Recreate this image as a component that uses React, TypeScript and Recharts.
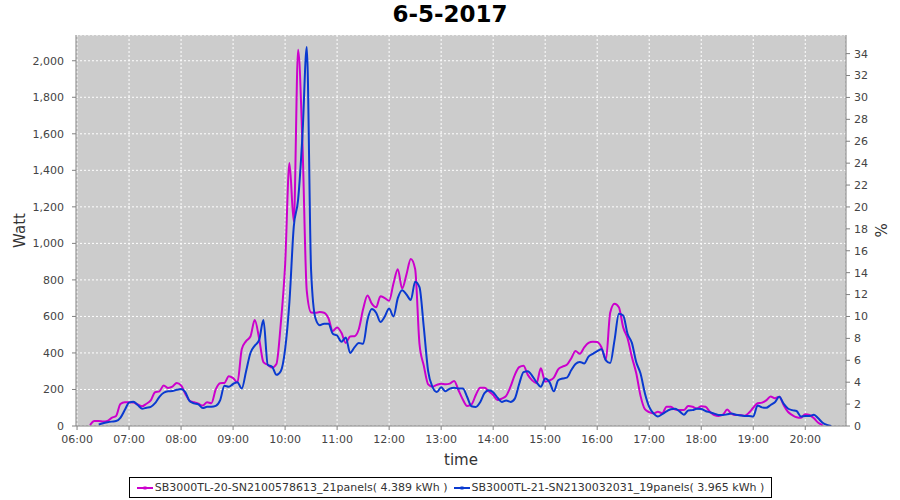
import React from 'react';
import { LineChart, Line, XAxis, YAxis, CartesianGrid } from 'recharts';

const times = [
  '06:15', '06:20', '06:25', '06:30', '06:35', '06:40', '06:45', '06:50', '06:55',
  '07:00', '07:05', '07:10', '07:15', '07:20', '07:25', '07:30', '07:35', '07:40', '07:45', '07:50', '07:55',
  '08:00', '08:05', '08:10', '08:15', '08:20', '08:25', '08:30', '08:35', '08:40', '08:45', '08:50', '08:55',
  '09:00', '09:05', '09:10', '09:15', '09:20', '09:25', '09:30', '09:35', '09:40', '09:45', '09:50', '09:55',
  '10:00', '10:05', '10:10', '10:15', '10:20', '10:25', '10:30', '10:35', '10:40', '10:45', '10:50', '10:55',
  '11:00', '11:05', '11:10', '11:15', '11:20', '11:25', '11:30', '11:35', '11:40', '11:45', '11:50', '11:55',
  '12:00', '12:05', '12:10', '12:15', '12:20', '12:25', '12:30', '12:35', '12:40', '12:45', '12:50', '12:55',
  '13:00', '13:05', '13:10', '13:15', '13:20', '13:25', '13:30', '13:35', '13:40', '13:45', '13:50', '13:55',
  '14:00', '14:05', '14:10', '14:15', '14:20', '14:25', '14:30', '14:35', '14:40', '14:45', '14:50', '14:55',
  '15:00', '15:05', '15:10', '15:15', '15:20', '15:25', '15:30', '15:35', '15:40', '15:45', '15:50', '15:55',
  '16:00', '16:05', '16:10', '16:15', '16:20', '16:25', '16:30', '16:35', '16:40', '16:45', '16:50', '16:55',
  '17:00', '17:05', '17:10', '17:15', '17:20', '17:25', '17:30', '17:35', '17:40', '17:45', '17:50', '17:55',
  '18:00', '18:05', '18:10', '18:15', '18:20', '18:25', '18:30', '18:35', '18:40', '18:45', '18:50', '18:55',
  '19:00', '19:05', '19:10', '19:15', '19:20', '19:25', '19:30', '19:35', '19:40', '19:45', '19:50', '19:55',
  '20:00', '20:05', '20:10', '20:15', '20:20', '20:25', '20:30',
];

// SB3000TL-20 (magenta), watts
const inv20 = [
  5, 27, 27, 25, 28, 45, 55, 120, 130,
  130, 128, 118, 108, 122, 140, 185, 190, 222, 208, 215, 236,
  222, 175, 138, 130, 122, 112, 130, 125, 200, 234, 236, 272,
  262, 238, 420, 465, 490, 580, 480, 350, 335, 320, 340, 560,
  880, 1440, 1120, 2060, 1550, 740, 622, 620, 624, 620, 590, 520,
  540, 510, 455, 490, 492, 530, 640, 715, 670, 650, 711, 700,
  686, 780, 859, 753, 830, 915, 860, 450, 330, 228, 215, 225,
  232, 228, 232, 247, 196, 145, 110, 118, 170, 210, 210, 190,
  170, 142, 150, 165, 215, 280, 322, 330, 280, 250, 234, 316,
  243, 250, 265, 310, 325, 335, 370, 410, 395, 430, 455, 462,
  460, 430, 362, 620, 669, 650, 540, 480, 378, 290, 165, 92,
  76, 69, 78, 70, 105, 105, 90, 87, 87, 109, 105, 96,
  108, 105, 78, 60, 55, 62, 90, 66, 60, 60, 56, 72,
  100, 125, 128, 140, 162, 152, 160, 115, 78, 60, 48, 45,
  65, 60, 42, 18, 5, null, null,
];

// SB3000TL-21 (blue), watts
const inv21 = [
  null, null, 8, 15, 20, 24, 27, 45, 87,
  128, 133, 115, 95, 100, 105, 125, 160, 182, 190, 191, 198,
  202, 185, 135, 124, 118, 98, 105, 105, 110, 140, 220, 215,
  230, 240, 205, 300, 400, 440, 470, 580, 335, 325, 280, 300,
  420, 680, 1092, 1240, 1590, 2075, 850, 590, 552, 560, 560, 505,
  495, 461, 485, 400, 430, 455, 450, 580, 640, 620, 570, 600,
  643, 600, 700, 744, 720, 690, 790, 760, 540, 300, 214, 186,
  212, 190, 205, 210, 205, 205, 159, 108, 104, 130, 180, 196,
  185, 155, 132, 140, 132, 150, 230, 295, 300, 275, 240, 215,
  260, 240, 190, 250, 260, 265, 305, 340, 351, 342, 380, 395,
  410, 420, 360, 345, 470, 615, 605, 505, 455, 350, 287, 180,
  105, 69, 52, 65, 80, 92, 94, 80, 62, 85, 87, 94,
  93, 82, 75, 68, 60, 60, 64, 68, 62, 58, 55, 55,
  52, 112, 102, 100, 115, 130, 160, 122, 96, 87, 82, 52,
  55, 55, 62, 42, 18, 6, 0,
];

const hourTicks = ['06:00', '07:00', '08:00', '09:00', '10:00', '11:00', '12:00', '13:00',
  '14:00', '15:00', '16:00', '17:00', '18:00', '19:00', '20:00'];
const wattTicks = [0, 200, 400, 600, 800, 1000, 1200, 1400, 1600, 1800, 2000];
const pctTicks = [0, 2, 4, 6, 8, 10, 12, 14, 16, 18, 20, 22, 24, 26, 28, 30, 32, 34];

const series = [
  { key: 'inv20', name: 'SB3000TL-20-SN2100578613_21panels( 4.389 kWh )', color: '#cc00cc' },
  { key: 'inv21', name: 'SB3000TL-21-SN2130032031_19panels( 3.965 kWh )', color: '#0a3ad0' },
];

const toMin = (s: string) => {
  const [h, m] = s.split(':').map(Number);
  return h * 60 + m;
};
const fmtTime = (v: number) => {
  const h = Math.floor(v / 60);
  const m = v % 60;
  return `${String(h).padStart(2, '0')}:${String(m).padStart(2, '0')}`;
};

const data = times.map((tm, i) => ({ t: toMin(tm), inv20: inv20[i], inv21: inv21[i] }));

const FONT = '"DejaVu Sans", Tahoma, sans-serif';
const tickStyle = { fontFamily: FONT, fontSize: 11, fill: '#444' };
const axisGray = '#808080';

const axisTitle = (text: string, dx: number, dy: number, angle: number) => (props: any) => {
  const vb = props.viewBox || {};
  const cx = vb.x + dx;
  const cy = angle === 0 ? vb.y + dy : vb.y + vb.height / 2;
  return (
    <text x={cx} y={cy} transform={`rotate(${angle} ${cx} ${cy})`} textAnchor="middle"
      dominantBaseline="central" fontFamily={FONT} fontSize={15} fill="#333">{text}</text>
  );
};

export default function App() {
  return (
    <div style={{ position: 'absolute', left: 0, top: 0, width: 900, height: 500, background: '#fff' }}>
      <div style={{ position: 'absolute', left: 0, top: 0, width: 900, textAlign: 'center',
        fontFamily: FONT, fontWeight: 'bold', fontSize: 23, lineHeight: '28px', color: '#000' }}>
        6-5-2017
      </div>
      <LineChart width={900} height={500} data={data} margin={{ top: 35, right: 0, bottom: 44, left: 0 }}>
        <CartesianGrid yAxisId="left" fill="#cccccc" stroke="#ffffff" strokeDasharray="2 2" />
        <XAxis dataKey="t" type="number" domain={[358.8, 1247]} allowDataOverflow
          ticks={hourTicks.map(toMin)} tickFormatter={fmtTime} tick={tickStyle}
          tickSize={4} tickMargin={5} height={30} stroke={axisGray}
          label={axisTitle('time', 385, 34, 0)} />
        <XAxis xAxisId="top" dataKey="t" type="number" orientation="top" domain={[358.8, 1247]}
          allowDataOverflow height={0} tick={false} tickLine={false} stroke={axisGray} />
        <YAxis yAxisId="left" type="number" domain={[0, 2141]} allowDataOverflow ticks={wattTicks}
          tickFormatter={(v: number) => v.toLocaleString('en-US')} tick={tickStyle}
          width={76} tickSize={4} tickMargin={8} stroke={axisGray}
          label={axisTitle('Watt', 20, 0, -90)} />
        <YAxis yAxisId="right" orientation="right" type="number" domain={[0, 35.7]} allowDataOverflow
          ticks={pctTicks} tick={tickStyle} width={54} tickSize={4} tickMargin={4} stroke={axisGray}
          label={axisTitle('%', 34, 0, 90)} />
        {series.map((s) => (
          <Line key={s.key} yAxisId="left" type="monotone" dataKey={s.key} name={s.name}
            stroke={s.color} strokeWidth={2} dot={false} isAnimationActive={false} />
        ))}
      </LineChart>
      <div style={{ position: 'absolute', left: 129, top: 477, width: 643, height: 21, boxSizing: 'border-box',
        border: '1px solid #000', display: 'flex', alignItems: 'center', justifyContent: 'center', gap: 6,
        fontFamily: FONT, fontSize: 11, color: '#333', whiteSpace: 'nowrap' }}>
        {series.map((s) => (
          <span key={s.key} style={{ display: 'inline-flex', alignItems: 'center' }}>
            <svg width={16} height={6} style={{ marginRight: 2 }}>
              <line x1={0} y1={3} x2={16} y2={3} stroke={s.color} strokeWidth={2} />
              <rect x={6.5} y={1.5} width={3} height={3} fill={s.color} />
            </svg>
            {s.name}
          </span>
        ))}
      </div>
    </div>
  );
}
